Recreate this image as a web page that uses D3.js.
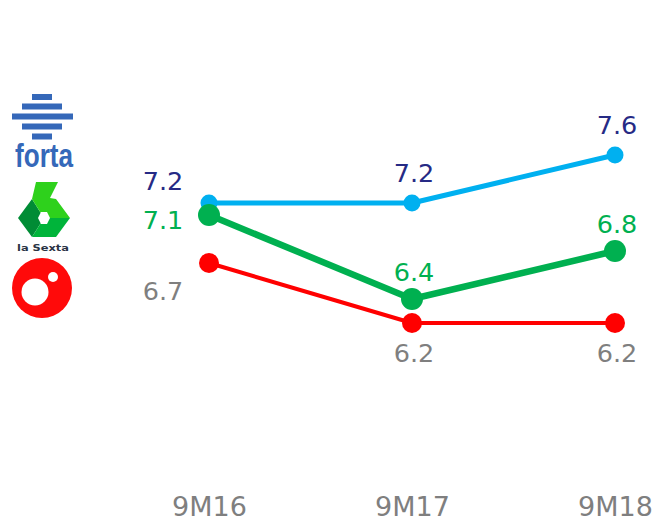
<!DOCTYPE html>
<html>
<head>
<meta charset="utf-8">
<script src="https://cdn.jsdelivr.net/npm/d3@7"></script>
<style>
  body { margin: 0; background: #fff; }
  svg { display: block; font-family: "DejaVu Sans", Verdana, sans-serif; }
</style>
</head>
<body>
<svg id="chart"></svg>
<script>
// data
const periods = ['9M16', '9M17', '9M18'];
const forta = [7.2, 7.2, 7.6];
const laSexta = [7.1, 6.4, 6.8];
const cuatro = [6.7, 6.2, 6.2];

const width = 657;
const height = 522;

const svg = d3.select('#chart')
    .attr('width', width)
    .attr('height', height);

// scales
const xScale = d3.scalePoint()
    .domain(periods)
    .range([209, 615]);

const yScale = d3.scaleLinear()
    .domain([6, 8])
    .range([347, 107]);

// series styling, draw order: forta, cuatro, la sexta on top
const series = [
    { name: 'forta', values: forta, line: '#00b0f0', width: 5, r: 8.5, text: '#262a85',
      firstDy: -13, dy: -21 },
    { name: 'cuatro', values: cuatro, line: '#ff0000', width: 4, r: 10, text: '#7f7f7f',
      firstDy: 37, dy: 39 },
    { name: 'laSexta', values: laSexta, line: '#00b050', width: 6.5, r: 11, text: '#00b050',
      firstDy: 14, dy: -18 }
];

const line = d3.line()
    .x((d, i) => xScale(periods[i]))
    .y(d => yScale(d));

const g = svg.selectAll('.series')
    .data(series)
    .enter()
    .append('g')
    .attr('class', 'series');

g.append('path')
    .attr('d', d => line(d.values))
    .attr('fill', 'none')
    .attr('stroke', d => d.line)
    .attr('stroke-width', d => d.width)
    .attr('stroke-linejoin', 'round');

g.selectAll('circle')
    .data(d => d.values.map((v, i) => ({ v, i, s: d })))
    .enter()
    .append('circle')
    .attr('cx', d => xScale(periods[d.i]))
    .attr('cy', d => yScale(d.v))
    .attr('r', d => d.s.r)
    .attr('fill', d => d.s.line);

// value labels
svg.selectAll('.series')
    .each(function(s) {
        d3.select(this).selectAll('text')
            .data(s.values)
            .enter()
            .append('text')
            .attr('x', (v, i) => xScale(periods[i]) + (i === 0 ? -46 : 2))
            .attr('y', (v, i) => yScale(v) + (i === 0 ? s.firstDy : s.dy))
            .attr('text-anchor', 'middle')
            .attr('font-size', 25.5)
            .attr('fill', s.text)
            .text(v => d3.format('.1f')(v));
    });

// x axis
const xAxis = svg.append('g')
    .attr('class', 'bottom-axis')
    .attr('transform', 'translate(0,516)')
    .call(d3.axisBottom(xScale).tickSize(0));
xAxis.select('.domain').remove();
xAxis.selectAll('.tick text')
    .attr('y', 0)
    .attr('dy', 0)
    .attr('font-size', 27)
    .attr('font-family', '"DejaVu Sans", Verdana, sans-serif')
    .attr('fill', '#7f7f7f');

// logos
const logos = svg.append('g').attr('class', 'logos');

// forta
const fortaBars = [[32, 94, 20], [22, 103.5, 40], [12, 113.5, 61], [22, 123.5, 40], [32, 133.5, 20]];
logos.selectAll('.fbar')
    .data(fortaBars)
    .enter()
    .append('rect')
    .attr('x', d => d[0])
    .attr('y', d => d[1])
    .attr('width', d => d[2])
    .attr('height', 6)
    .attr('fill', '#3568b9');
logos.append('text')
    .attr('x', 15)
    .attr('y', 167)
    .attr('font-family', '"Liberation Sans Narrow", "Liberation Sans", Arial, sans-serif')
    .attr('font-weight', 'bold')
    .attr('font-size', 34)
    .attr('textLength', 58)
    .attr('lengthAdjust', 'spacingAndGlyphs')
    .attr('fill', '#3568b9')
    .text('forta');

// la sexta
logos.append('polygon')
    .attr('points', '18,218 32,199 44,218 32,237')
    .attr('fill', '#008c35');
logos.append('polygon')
    .attr('points', '32,199 36,182 58,182 50,198 56,199 70,218 44,218')
    .attr('fill', '#2ed11c');
logos.append('polygon')
    .attr('points', '44,218 70,218 56,237 32,237')
    .attr('fill', '#00b43a');
logos.append('polygon')
    .attr('points', '38,218 41,212 47,212 50,218 47,224 41,224')
    .attr('fill', '#fff');
logos.append('text')
    .attr('x', 43)
    .attr('y', 251)
    .attr('text-anchor', 'middle')
    .attr('font-family', '"DejaVu Sans", sans-serif')
    .attr('font-weight', 'bold')
    .attr('font-size', 8.5)
    .attr('textLength', 52)
    .attr('lengthAdjust', 'spacingAndGlyphs')
    .attr('fill', '#2a3445')
    .text('la Sexta');

// cuatro
logos.append('circle').attr('cx', 42).attr('cy', 288).attr('r', 30).attr('fill', '#ff0a0a');
logos.append('circle').attr('cx', 35).attr('cy', 292).attr('r', 13.5).attr('fill', '#fff');
logos.append('circle').attr('cx', 53).attr('cy', 277).attr('r', 5).attr('fill', '#fff');
</script>
</body>
</html>
